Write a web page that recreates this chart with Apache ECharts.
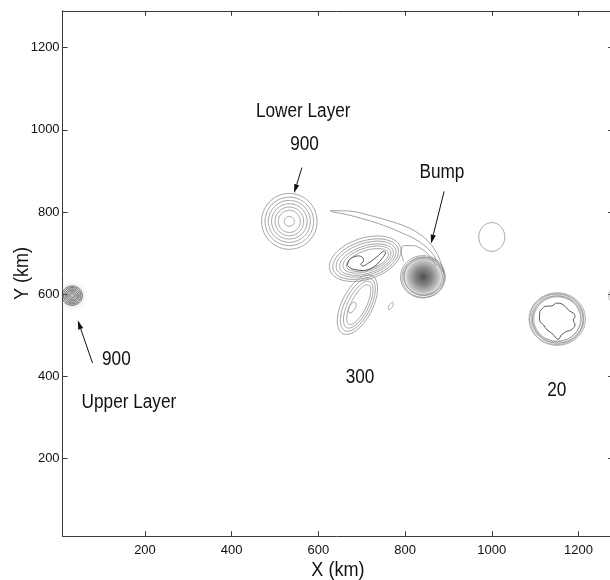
<!DOCTYPE html>
<html>
<head>
<meta charset="utf-8">
<script src="https://cdn.jsdelivr.net/npm/echarts@6/dist/echarts.min.js"></script>
<style>
  html, body { margin: 0; padding: 0; background: #fff; }
  #chart { width: 610px; height: 580px; }
</style>
</head>
<body>
<div id="chart"></div>
<script>
// Axis ticks (km)
const xTicks = [200, 400, 600, 800, 1000, 1200];
const yTicks = [200, 400, 600, 800, 1000, 1200];

// Contour rings: [centreX, centreY, radiusX, radiusY, tiltDeg], all in km
const lowerLayerRings = [
  [533, 777, 64, 68, 0], [533, 777, 56, 59, 0], [533, 777, 48.5, 51, 0],
  [533, 777, 41, 43, 0], [533, 777, 33, 35, 0], [533, 777, 25.4, 27, 0],
  [533, 777, 11.5, 12, 0]
];
const bumpRings = [
  [842, 642, 44, 44, 0], [843, 643, 46.5, 46.5, 0],
  [842, 641, 49, 49, 0], [841, 642, 51.5, 51.5, 0]
];
const eddyRings = [[1000, 739, 30, 35, 0]];
const ring20 = [
  [1151, 539, 54, 54, 0], [1150, 540, 56, 55.5, 0], [1152, 538, 58, 57.5, 0],
  [1151, 540, 60, 59.5, 0], [1150, 539, 62.5, 62, 0], [1151, 539, 65, 64, 0]
];
const upperRings = [
  [32, 596, 5, 5, 0], [32, 596, 9.5, 9.5, 0], [32, 596, 13, 13, 0],
  [32, 596, 16.5, 16.5, 0], [32, 596, 20, 20, 0], [32, 596, 23.5, 23.5, 0]
];
const edgeRings = [[1291, 596, 14, 14, 0], [1291, 596, 18, 18, 0], [1291, 596, 22, 22, 0]];
const vortex300Rings = [
  [708, 686, 86, 50, 20], [709, 685, 79, 44, 20], [710, 685, 72, 38.5, 20],
  [711, 684, 65, 33, 20], [712, 684, 58, 28, 20], [713, 683, 51, 23, 20]
];
const tailRings = [
  [690, 574, 78, 36, 65], [691, 574, 70, 30, 65], [692, 574, 62, 24, 65],
  [693, 574, 53, 18, 65], [678, 567, 14, 7, 62], [767, 571, 10, 4, 60]
];

// Irregular contours (km)
const core300 = [
  [667, 670], [671, 683], [681, 690], [692, 693], [702, 689], [704, 680], [698, 673],
  [702, 668], [715, 675], [727, 684], [739, 694], [750, 704], [755, 701], [748, 688],
  [736, 673], [721, 662], [704, 657], [687, 659], [675, 662], [667, 670]
];
const filament = [
  [627, 803], [673, 802], [724, 790], [770, 776], [807, 762], [839, 742], [862, 718],
  [876, 693], [885, 669], [890, 650], [881, 664], [867, 693], [848, 715], [821, 735],
  [788, 751], [751, 767], [710, 781], [668, 793], [634, 800], [627, 803]
];
const hook = [[797, 679], [791, 703], [797, 718], [818, 718], [841, 708], [860, 689], [871, 669]];
const core20 = [
  [1111, 558], [1123, 570], [1138, 571], [1150, 578], [1161, 576], [1173, 566], [1180, 558],
  [1188, 554], [1192, 545], [1188, 537], [1192, 525], [1184, 513], [1173, 509], [1161, 501],
  [1153, 489], [1148, 493], [1138, 505], [1127, 513], [1119, 525], [1111, 533], [1110, 545],
  [1111, 558]
];

// Shaded vortex cores: [centreX, centreY, radius] in km
const bumpShade = [[842, 642, 45]];
const upperHaze = [[32, 596, 38]];

// Annotation arrows: [fromX, fromY, toX, toY] in km
const arrows = [[562, 908, 544, 846], [890, 850, 860, 723], [79, 432, 45, 536]];

// Annotations
const noteText = ['Lower Layer', '900', 'Bump', '900', 'Upper Layer', '300', '20'];
const notePos = [[565, 1045], [568, 964], [885, 896], [134, 440], [163, 335], [696, 396], [1150, 364]];

const SANS = "'Liberation Sans', Arial, sans-serif";
const AXIS_COLOR = '#3a3a3a';
const NARROW_SCALE = 0.86;

function ringSeries(rows, color, width) {
  return {
    type: 'custom',
    coordinateSystem: 'cartesian2d',
    clip: true,
    silent: true,
    data: rows,
    renderItem: function (params, api) {
      const cx = api.value(0), cy = api.value(1);
      const rx = api.value(2), ry = api.value(3);
      const t = api.value(4) * Math.PI / 180;
      const pts = [];
      const n = 120;
      for (let i = 0; i < n; i++) {
        const a = i / n * 2 * Math.PI;
        const dx = rx * Math.cos(a), dy = ry * Math.sin(a);
        pts.push(api.coord([cx + dx * Math.cos(t) - dy * Math.sin(t),
                            cy + dx * Math.sin(t) + dy * Math.cos(t)]));
      }
      return {
        type: 'polygon',
        shape: { points: pts },
        style: { fill: 'none', stroke: color, lineWidth: width }
      };
    }
  };
}

function contourSeries(points, color, width) {
  return {
    type: 'line',
    data: points,
    symbol: 'none',
    smooth: 0.3,
    clip: true,
    silent: true,
    lineStyle: { color: color, width: width }
  };
}

function shadeSeries(rows, stops) {
  return {
    type: 'custom',
    coordinateSystem: 'cartesian2d',
    clip: true,
    silent: true,
    data: rows,
    renderItem: function (params, api) {
      const c = api.coord([api.value(0), api.value(1)]);
      const r = api.size([api.value(2), 0])[0];
      return {
        type: 'circle',
        shape: { cx: c[0], cy: c[1], r: r },
        style: { fill: new echarts.graphic.RadialGradient(0.5, 0.5, 0.5, stops) }
      };
    }
  };
}

const arrowSeries = {
  type: 'custom',
  coordinateSystem: 'cartesian2d',
  silent: true,
  data: arrows,
  renderItem: function (params, api) {
    const p1 = api.coord([api.value(0), api.value(1)]);
    const p2 = api.coord([api.value(2), api.value(3)]);
    const dx = p2[0] - p1[0], dy = p2[1] - p1[1];
    const len = Math.sqrt(dx * dx + dy * dy);
    const ux = dx / len, uy = dy / len;
    const headLen = 9, headHalf = 2.6;
    const bx = p2[0] - ux * headLen, by = p2[1] - uy * headLen;
    return {
      type: 'group',
      children: [
        { type: 'line', shape: { x1: p1[0], y1: p1[1], x2: bx, y2: by },
          style: { stroke: '#111', lineWidth: 1 } },
        { type: 'polygon',
          shape: { points: [[p2[0], p2[1]], [bx - uy * headHalf, by + ux * headHalf], [bx + uy * headHalf, by - ux * headHalf]] },
          style: { fill: '#111' } }
      ]
    };
  }
};

const noteSeries = {
  type: 'custom',
  coordinateSystem: 'cartesian2d',
  silent: true,
  data: notePos,
  renderItem: function (params, api) {
    const p = api.coord([api.value(0), api.value(1)]);
    return {
      type: 'text',
      x: p[0], y: p[1],
      scaleX: NARROW_SCALE,
      style: {
        text: noteText[params.dataIndex],
        x: 0, y: 0,
        align: 'center', verticalAlign: 'middle',
        fontSize: 20, fontFamily: SANS, fill: '#111'
      }
    };
  }
};

const axisLineStyle = { color: AXIS_COLOR, width: 1 };
const plainNumber = function (v) { return String(v); };

const chartEl = document.getElementById('chart');
const chart = echarts.init(chartEl, null, { renderer: 'canvas' });

const gridBox = { left: 62.6, right: -3.2, top: 10.8, bottom: 43.8 };
const W = chartEl.clientWidth, H = chartEl.clientHeight;
const plotMidX = (gridBox.left + W - gridBox.right) / 2;
const plotMidY = (gridBox.top + H - gridBox.bottom) / 2;

const option = {
  animation: false,
  backgroundColor: '#fff',
  grid: Object.assign({ containLabel: false, outerBoundsMode: 'none' }, gridBox),
  // Axis titles, drawn as narrow text
  graphic: [
    { type: 'text', x: plotMidX, y: H - gridBox.bottom + 34, scaleX: NARROW_SCALE, silent: true,
      style: { text: 'X (km)', align: 'center', verticalAlign: 'middle', fontSize: 21, fontFamily: SANS, fill: '#111' } },
    { type: 'text', x: gridBox.left - 40, y: plotMidY, rotation: Math.PI / 2, scaleX: NARROW_SCALE, silent: true,
      style: { text: 'Y (km)', align: 'center', verticalAlign: 'middle', fontSize: 21, fontFamily: SANS, fill: '#111' } }
  ],
  xAxis: [
    {
      type: 'value', min: 10, max: 1280, position: 'bottom',
      axisLine: { show: true, onZero: false, lineStyle: axisLineStyle },
      axisTick: { show: true, inside: true, length: 5, customValues: xTicks, lineStyle: axisLineStyle },
      axisLabel: { customValues: xTicks, formatter: plainNumber, margin: 8, fontSize: 13, fontFamily: SANS, color: '#111' },
      splitLine: { show: false }
    },
    {
      type: 'value', min: 10, max: 1280, position: 'top',
      axisLine: { show: true, onZero: false, lineStyle: axisLineStyle },
      axisTick: { show: true, inside: true, length: 5, customValues: xTicks, lineStyle: axisLineStyle },
      axisLabel: { show: false },
      splitLine: { show: false }
    }
  ],
  yAxis: [
    {
      type: 'value', min: 10, max: 1290, position: 'left',
      axisLine: { show: true, onZero: false, lineStyle: axisLineStyle },
      axisTick: { show: true, inside: true, length: 5, customValues: yTicks, lineStyle: axisLineStyle },
      axisLabel: { customValues: yTicks, formatter: plainNumber, margin: 3, fontSize: 13, fontFamily: SANS, color: '#111' },
      splitLine: { show: false }
    },
    {
      type: 'value', min: 10, max: 1290, position: 'right',
      axisLine: { show: true, onZero: false, lineStyle: axisLineStyle },
      axisTick: { show: true, inside: true, length: 5, customValues: yTicks, lineStyle: axisLineStyle },
      axisLabel: { show: false },
      splitLine: { show: false }
    }
  ],
  series: [
    shadeSeries(upperHaze, [
      { offset: 0, color: 'rgba(150,150,150,0.45)' },
      { offset: 0.55, color: 'rgba(180,180,180,0.3)' },
      { offset: 1, color: 'rgba(225,225,225,0)' }
    ]),
    shadeSeries(bumpShade, [
      { offset: 0, color: 'rgba(70,70,70,0.95)' },
      { offset: 0.45, color: 'rgba(115,115,115,0.85)' },
      { offset: 0.8, color: 'rgba(165,165,165,0.7)' },
      { offset: 1, color: 'rgba(205,205,205,0.3)' }
    ]),
    ringSeries(lowerLayerRings, '#8a8a8a', 0.8),
    ringSeries(bumpRings, '#8a8a8a', 0.8),
    ringSeries(eddyRings, '#8a8a8a', 0.8),
    ringSeries(ring20, '#8e8e8e', 0.7),
    ringSeries(vortex300Rings, '#8a8a8a', 0.8),
    ringSeries(tailRings, '#8a8a8a', 0.8),
    ringSeries(edgeRings, '#9a9a9a', 0.7),
    ringSeries(upperRings, '#2a2a2a', 0.7),
    contourSeries(core300, '#444', 0.9),
    contourSeries(core20, '#444', 0.9),
    contourSeries(filament, '#8a8a8a', 0.8),
    contourSeries(hook, '#8a8a8a', 0.8),
    arrowSeries,
    noteSeries
  ]
};

chart.setOption(option);
</script>
</body>
</html>
